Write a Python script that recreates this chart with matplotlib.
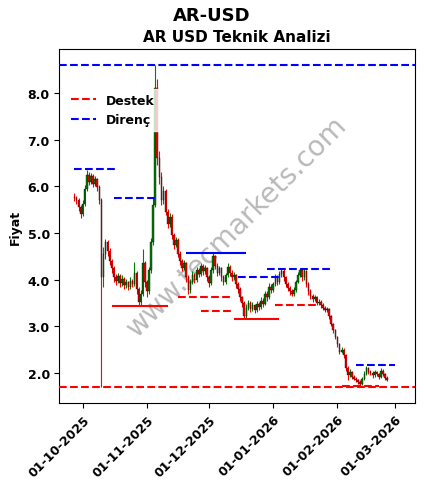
import numpy as np
import pandas as pd
import matplotlib
matplotlib.use("Agg")
import matplotlib.pyplot as plt
import matplotlib.dates as mdates

# daily candles, 27-09-2025 .. 25-02-2026
first_open = 5.78
closes = [5.75, 5.70, 5.55, 5.40,
          5.62, 5.95, 6.25, 6.10, 6.22, 6.05, 6.15, 5.98, 5.70, 4.05,
          4.55, 4.80, 4.62, 4.40, 4.25, 4.05, 3.98, 4.08, 3.92, 4.02,
          3.88, 3.95, 3.85, 3.98, 3.90, 4.15, 3.80, 3.52, 3.70, 4.35, 3.95,
          3.75, 4.20, 4.80, 5.60, 8.10, 6.60, 6.20, 5.70, 5.90, 5.45,
          5.20, 5.35, 4.95, 4.75, 4.85, 4.55, 4.40, 4.25, 4.35, 4.05,
          3.78, 3.95, 4.10, 4.00, 4.20, 4.12, 4.30, 4.18, 4.25, 4.05,
          3.92, 4.20, 4.50, 4.30, 4.15, 4.25, 4.05, 3.95, 4.10, 4.28,
          4.15, 4.05, 4.10, 3.90, 3.80, 3.62, 3.50, 3.22, 3.40, 3.50,
          3.38, 3.45, 3.35, 3.48, 3.42, 3.55, 3.48, 3.70, 3.62, 3.85, 3.78,
          3.90, 4.05, 3.95, 4.12, 4.18, 4.05, 3.90, 3.82, 3.75, 3.70,
          3.78, 3.95, 4.10, 4.20, 4.05, 4.18, 3.90, 3.75, 3.65, 3.58,
          3.62, 3.50, 3.52, 3.45, 3.40, 3.35, 3.38, 3.22, 3.05, 2.92, 2.78,
          2.62, 2.45, 2.50, 2.38, 2.10, 1.95, 2.02, 1.92, 1.88, 1.85,
          1.80, 1.76, 1.88, 1.98, 2.10, 2.02, 2.00, 1.95, 2.02, 1.98,
          1.92, 2.05, 1.98, 1.90, 1.85]
highs = [5.85, 5.80, 5.74, 5.60,
         5.70, 6.02, 6.35, 6.30, 6.28, 6.26, 6.22, 6.18, 6.02, 5.75,
         4.70, 4.88, 4.85, 4.68, 4.45, 4.30, 4.12, 4.15, 4.12, 4.10,
         4.06, 4.02, 3.98, 4.05, 4.02, 4.38, 4.18, 3.85, 3.78, 4.65, 4.40,
         4.00, 4.28, 4.90, 5.75, 8.60, 8.30, 6.75, 6.30, 6.00, 5.95,
         5.52, 5.42, 5.40, 5.00, 4.92, 4.90, 4.62, 4.45, 4.42, 4.38,
         4.10, 4.02, 4.18, 4.15, 4.28, 4.25, 4.36, 4.34, 4.32, 4.28,
         4.10, 4.28, 4.58, 4.52, 4.35, 4.30, 4.28, 4.10, 4.15, 4.35,
         4.32, 4.20, 4.16, 4.12, 3.95, 3.85, 3.66, 3.54, 3.48, 3.56,
         3.54, 3.52, 3.48, 3.55, 3.52, 3.62, 3.60, 3.76, 3.75, 3.92, 3.90,
         3.96, 4.12, 4.10, 4.18, 4.25, 4.22, 4.08, 3.95, 3.86, 3.80,
         3.84, 4.00, 4.16, 4.25, 4.24, 4.22, 4.20, 3.94, 3.80, 3.70,
         3.68, 3.65, 3.58, 3.56, 3.50, 3.44, 3.42, 3.40, 3.25, 3.08, 2.95,
         2.80, 2.65, 2.56, 2.54, 2.40, 2.14, 2.08, 2.05, 1.95, 1.92,
         1.88, 1.84, 1.92, 2.04, 2.16, 2.12, 2.06, 2.04, 2.06, 2.05,
         2.00, 2.10, 2.08, 2.00, 1.93]
lows = [5.68, 5.62, 5.48, 5.33,
        5.36, 5.58, 5.90, 6.02, 6.05, 5.98, 6.00, 5.90, 5.62, 1.71,
        3.85, 4.45, 4.50, 4.32, 4.15, 3.95, 3.88, 3.92, 3.85, 3.86,
        3.80, 3.82, 3.78, 3.80, 3.84, 3.86, 3.70, 3.43, 3.45, 3.65, 3.85,
        3.62, 3.70, 4.15, 4.75, 5.55, 6.45, 6.05, 5.60, 5.62, 5.38,
        5.10, 5.12, 4.88, 4.65, 4.70, 4.48, 4.32, 4.18, 4.20, 3.95,
        3.70, 3.72, 3.90, 3.92, 3.96, 4.05, 4.08, 4.10, 4.12, 3.98,
        3.85, 3.88, 4.15, 4.22, 4.08, 4.10, 3.98, 3.88, 3.90, 4.05,
        4.08, 3.98, 4.00, 3.82, 3.72, 3.55, 3.42, 3.16, 3.18, 3.35,
        3.30, 3.32, 3.28, 3.30, 3.36, 3.38, 3.42, 3.45, 3.55, 3.58, 3.72,
        3.74, 3.86, 3.88, 3.90, 4.05, 3.98, 3.84, 3.76, 3.68, 3.64,
        3.66, 3.74, 3.92, 4.05, 3.98, 4.00, 3.85, 3.68, 3.58, 3.52,
        3.54, 3.45, 3.46, 3.40, 3.34, 3.30, 3.30, 3.16, 3.00, 2.86, 2.72,
        2.55, 2.40, 2.42, 2.32, 2.04, 1.85, 1.92, 1.88, 1.84, 1.80,
        1.76, 1.72, 1.74, 1.85, 1.95, 1.98, 1.95, 1.90, 1.92, 1.94,
        1.88, 1.90, 1.94, 1.86, 1.82]

# support (Destek) / resistance (Direnç) levels: value, start, end
sup_levels = [3.43, 3.63, 3.33, 3.16, 3.46, 1.73]
sup_start = ["2025-10-15", "2025-11-16", "2025-11-27", "2025-12-13", "2026-01-02", "2026-02-03"]
sup_end = ["2025-11-11", "2025-12-11", "2025-12-12", "2026-01-04", "2026-01-22", "2026-02-21"]
sup_solid = [True, False, False, True, False, False]

res_levels = [6.37, 5.75, 4.58, 4.06, 4.22, 2.17]
res_start = ["2025-09-27", "2025-10-16", "2025-11-20", "2025-12-15", "2025-12-29", "2026-02-10"]
res_end = ["2025-10-17", "2025-11-06", "2025-12-19", "2026-01-04", "2026-01-29", "2026-03-01"]
res_solid = [False, False, True, False, False, False]

main_support = 1.71
main_resist = 8.61

dates = pd.date_range("2025-09-27", periods=len(closes), freq="D")
opens = [first_open] + closes[:-1]

fig = plt.figure(figsize=(4.24, 4.89), dpi=100)
ax = fig.add_axes([0.1403, 0.1738, 0.8385, 0.724])

x = mdates.date2num(dates)
for xi, o, h, l, c in zip(x, opens, highs, lows, closes):
    col = "green" if c >= o else "red"
    ax.vlines(xi, l, h, color=col, linewidth=0.8, zorder=2)
    ax.bar(xi, abs(c - o) if abs(c - o) > 0.01 else 0.01, bottom=min(o, c), width=0.7,
           color=col, edgecolor="black", linewidth=0.25, zorder=3)

for v, s, e, solid in zip(sup_levels, sup_start, sup_end, sup_solid):
    ax.hlines(v, mdates.datestr2num(s), mdates.datestr2num(e), colors="red",
              linestyles="-" if solid else "--", linewidth=1.5, zorder=4)
for v, s, e, solid in zip(res_levels, res_start, res_end, res_solid):
    ax.hlines(v, mdates.datestr2num(s), mdates.datestr2num(e), colors="blue",
              linestyles="-" if solid else "--", linewidth=1.5, zorder=4)

ax.axhline(main_support, color="red", linestyle="--", linewidth=1.5, label="Destek", zorder=4)
ax.axhline(main_resist, color="blue", linestyle="--", linewidth=1.5, label="Direnç", zorder=4)

ax.set_xlim(mdates.datestr2num("2025-09-19") + 0.8, mdates.datestr2num("2026-03-10") + 0.5)
ax.set_ylim(1.357, 8.943)
ax.set_yticks([2, 3, 4, 5, 6, 7, 8])
ax.yaxis.set_major_formatter(matplotlib.ticker.FormatStrFormatter("%.1f"))
ax.xaxis.set_major_locator(mdates.MonthLocator())
ax.xaxis.set_major_formatter(mdates.DateFormatter("%d-%m-%Y"))
plt.setp(ax.get_xticklabels(), rotation=45, ha="right", rotation_mode="anchor",
         fontsize=9, fontweight="bold")
plt.setp(ax.get_yticklabels(), fontsize=9, fontweight="bold")
ax.set_ylabel("Fiyat", fontsize=9, fontweight="bold")

ax.set_title("AR USD Teknik Analizi", fontsize=11, fontweight="bold", pad=6)
fig.suptitle("AR-USD", fontsize=13, fontweight="bold", y=0.985)

leg = ax.legend(loc="upper left", bbox_to_anchor=(0.0, 0.905), prop={"weight": "bold", "size": 9},
                frameon=True, framealpha=0.8, edgecolor="white")

ax.text(0.5, 0.5, "www.tecmarkets.com", transform=ax.transAxes, fontsize=20,
        color="gray", alpha=0.55, rotation=45, ha="center", va="center", zorder=1)

fig.savefig("out.png", dpi=100)
